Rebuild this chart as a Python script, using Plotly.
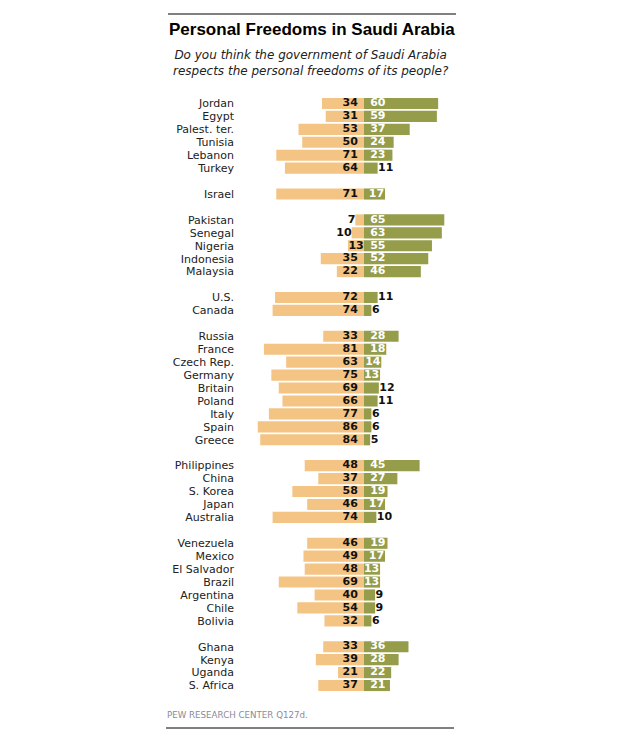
import plotly.graph_objects as go

# ---- data ----
groups = [
    ["Jordan", "Egypt", "Palest. ter.", "Tunisia", "Lebanon", "Turkey"],
    ["Israel"],
    ["Pakistan", "Senegal", "Nigeria", "Indonesia", "Malaysia"],
    ["U.S.", "Canada"],
    ["Russia", "France", "Czech Rep.", "Germany", "Britain", "Poland", "Italy", "Spain", "Greece"],
    ["Philippines", "China", "S. Korea", "Japan", "Australia"],
    ["Venezuela", "Mexico", "El Salvador", "Brazil", "Argentina", "Chile", "Bolivia"],
    ["Ghana", "Kenya", "Uganda", "S. Africa"],
]
no_vals = [
    [34, 31, 53, 50, 71, 64],
    [71],
    [7, 10, 13, 35, 22],
    [72, 74],
    [33, 81, 63, 75, 69, 66, 77, 86, 84],
    [48, 37, 58, 46, 74],
    [46, 49, 48, 69, 40, 54, 32],
    [33, 39, 21, 37],
]
yes_vals = [
    [60, 59, 37, 24, 23, 11],
    [17],
    [65, 63, 55, 52, 46],
    [11, 6],
    [28, 18, 14, 13, 12, 11, 6, 6, 5],
    [45, 27, 19, 17, 10],
    [19, 17, 13, 13, 9, 9, 6],
    [36, 28, 22, 21],
]

NO_COLOR = "#F3C483"
YES_COLOR = "#959C4A"
NO_HEAD = "#E8A33D"
YES_HEAD = "#8F9A3C"
FONT = "DejaVu Sans"

# flatten with a blank slot between groups
countries, ys, nos, yess = [], [], [], []
slot = 0
for gi, g in enumerate(groups):
    if gi > 0:
        slot += 1
    for c, n, y in zip(g, no_vals[gi], yes_vals[gi]):
        countries.append(c)
        ys.append(slot)
        nos.append(n)
        yess.append(y)
        slot += 1
n_slots = slot

# geometry (page body has an 8px margin)
OFF = 8
W, H = 620, 754
L, R, T, B = 230, 158, 89, 70
pw, ph = W - L - R, H - T - B
XMIN, XMAX = -102, 85.8
UPX = (XMAX - XMIN) / pw          # data units per pixel
DIGIT_PX = 7.7                    # approx width of a bold 11px digit


def tw(v):
    return len(str(v)) * DIGIT_PX * UPX


fig = go.Figure()
fig.add_trace(go.Bar(y=ys, x=[-v for v in nos], orientation="h",
                     marker=dict(color=NO_COLOR, line=dict(width=0)),
                     hoverinfo="skip", showlegend=False))
fig.add_trace(go.Bar(y=ys, x=yess, orientation="h",
                     marker=dict(color=YES_COLOR, line=dict(width=0)),
                     hoverinfo="skip", showlegend=False))

# No labels (right end of text)
no_x = []
for v in nos:
    if v < 12:
        no_x.append(-v)
    else:
        no_x.append(max(-5.0, -v + tw(v) + 0.3))
fig.add_trace(go.Scatter(x=no_x, y=ys, mode="text", text=[str(v) for v in nos],
                         textposition="middle left",
                         textfont=dict(family=FONT, size=11, color="#111", weight="bold"),
                         hoverinfo="skip", showlegend=False, cliponaxis=False))
# Yes labels (left start of text)
yes_in = [v >= 13 for v in yess]
yes_x = []
for v, ins in zip(yess, yes_in):
    if ins:
        yes_x.append(max(-0.6, min(5.0, v - tw(v) - 0.6)))
    else:
        yes_x.append(v + 0.4)
fig.add_trace(go.Scatter(x=yes_x, y=ys,
                         mode="text", text=[str(v) for v in yess],
                         textposition="middle right",
                         textfont=dict(family=FONT, size=11, weight="bold",
                                       color=["#FFFFFF" if ins else "#111" for ins in yes_in]),
                         hoverinfo="skip", showlegend=False, cliponaxis=False))

annotations = [
    dict(x=-17, y=-1.05, xref="x", yref="y", text="<b>No</b>", showarrow=False,
         font=dict(family=FONT, size=11, color=NO_HEAD), xanchor="center", yanchor="middle"),
    dict(x=12.3, y=-1.05, xref="x", yref="y", text="<b>Yes</b>", showarrow=False,
         font=dict(family=FONT, size=11, color=YES_HEAD), xanchor="center", yanchor="middle"),
]


def px(x):
    return (x - OFF - L) / pw


def py(y):
    return (H - B - (y - OFF)) / ph


annotations += [
    dict(x=px(312), y=py(29.5), xref="paper", yref="paper",
         text="<b>Personal Freedoms in Saudi Arabia</b>", showarrow=False,
         font=dict(family="Liberation Sans", size=17, color="#000"),
         xanchor="center", yanchor="middle"),
    dict(x=px(311), y=py(63), xref="paper", yref="paper",
         text="<i>Do you think the government of Saudi Arabia<br>respects the personal freedoms of its people?</i>",
         showarrow=False, font=dict(family=FONT, size=12, color="#222"),
         xanchor="center", yanchor="middle", align="center"),
    dict(x=px(165), y=py(715), xref="paper", yref="paper",
         text="PEW RESEARCH CENTER Q127d.", showarrow=False,
         font=dict(family=FONT, size=8.7, color="#8A8A99"),
         xanchor="left", yanchor="middle"),
]

shapes = [
    dict(type="line", xref="paper", yref="paper", x0=px(168), x1=px(456), y0=py(14), y1=py(14),
         line=dict(color="#000", width=1)),
    dict(type="line", xref="paper", yref="paper", x0=px(166), x1=px(454), y0=py(728), y1=py(728),
         line=dict(color="#000", width=1)),
]

fig.update_layout(
    width=W, height=H, autosize=False,
    margin=dict(l=L, r=R, t=T, b=B, pad=0),
    paper_bgcolor="#FFFFFF", plot_bgcolor="#FFFFFF",
    barmode="relative", bargap=0.14,
    annotations=annotations, shapes=shapes,
    font=dict(family=FONT),
)
fig.update_xaxes(range=[XMIN, XMAX], showgrid=False, zeroline=False, showticklabels=False,
                 showline=False, ticks="", fixedrange=True)
fig.update_yaxes(range=[n_slots - 0.5, -0.5], tickvals=ys, ticktext=countries,
                 tickfont=dict(family=FONT, size=11, color="#222"),
                 showgrid=False, zeroline=False, showline=False, ticks="",
                 ticklabelstandoff=3, fixedrange=True)

fig.write_html("out.html")
